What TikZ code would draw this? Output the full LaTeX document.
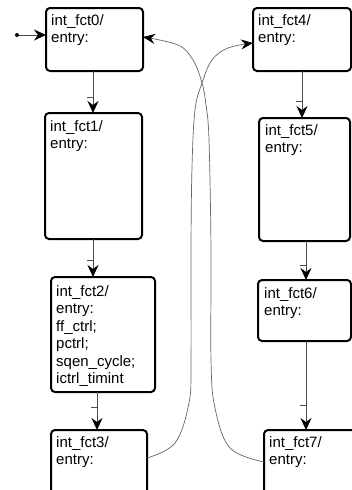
\documentclass[tikz,border=0pt]{standalone}
\usepackage{fontspec}
\setmainfont{Liberation Sans}
\usetikzlibrary{arrows.meta,decorations.markings,calc}
\newcommand\boxfont{\fontsize{15}{17.5}\selectfont}
\tikzset{
  statebox/.style={draw=black, line width=2pt, rounded corners=4pt, anchor=north west, inner sep=0pt, outer sep=0pt},
  boxtext/.style={anchor=north west, align=left, inner sep=0pt, font=\boxfont},
  flow/.style={draw=black!70, line width=0.8pt, -{Stealth[length=12pt,width=11pt,inset=4pt,black]}},
  tickat/.style={postaction={decorate, decoration={markings, mark=at position -#1 with {\draw[-, black!70, line width=0.8pt] (0,0.5pt) -- (0,-6pt);}}}},
  link/.style={draw=black!60, line width=0.7pt, -{Stealth[length=12pt,width=10pt,inset=4pt,black]}},
  initdot/.style={circle, fill=black, inner sep=0pt, minimum size=4pt},
}
\begin{document}
\begin{tikzpicture}[x=1pt,y=-1pt]
\clip (0,0) rectangle (352,490);
\fill[white] (0,0) rectangle (352,490);
% state boxes
\node[statebox, minimum width=97pt, minimum height=63pt] (f0) at (46,8) {};
\node[statebox, minimum width=97pt, minimum height=126pt] (f1) at (45,113) {};
\node[statebox, minimum width=104pt, minimum height=115pt] (f2) at (51,277) {};
\node[statebox, minimum width=96pt, minimum height=90pt] (f3) at (51,430) {};
\node[statebox, minimum width=98pt, minimum height=63pt] (f4) at (253,8) {};
\node[statebox, minimum width=91pt, minimum height=123pt] (f5) at (259,118) {};
\node[statebox, minimum width=93pt, minimum height=61pt] (f6) at (258,280) {};
\node[statebox, minimum width=100pt, minimum height=90pt] (f7) at (264,430) {};
% texts
\node[boxtext] (t0) at ($(f0.north west)+(5,6)$) {int\_fct0/\\entry:};
\node[boxtext] (t1) at ($(f1.north west)+(5,7)$) {int\_fct1/\\entry:};
\node[boxtext] (t2) at ($(f2.north west)+(5,8)$) {int\_fct2/\\entry:\\ff\_ctrl;\\pctrl;\\sqen\_cycle;\\ictrl\_timint};
\node[boxtext] (t3) at ($(f3.north west)+(5,6)$) {int\_fct3/\\entry:};
\node[boxtext] (t4) at ($(f4.north west)+(5,6)$) {int\_fct4/\\entry:};
\node[boxtext] (t5) at ($(f5.north west)+(6,6)$) {int\_fct5/\\entry:};
\node[boxtext] (t6) at ($(f6.north west)+(6,7)$) {int\_fct6/\\entry:};
\node[boxtext] (t7) at ($(f7.north west)+(5,6)$) {int\_fct7/\\entry:};
% initial transition
\node[initdot] (init) at (17,35) {};
\draw[flow] (init) -- (init -| f0.west);
% vertical transitions
\draw[flow, tickat=16pt] ([xshift=-1.5pt]f0.south) -- ([xshift=-1.5pt]f0.south |- f1.north);
\draw[flow, tickat=17pt] ([xshift=-0.5pt]f1.south) -- ([xshift=-0.5pt]f1.south |- f2.north);
\draw[flow, tickat=23pt] ([xshift=-6pt]f2.south) -- ([xshift=-6pt]f2.south |- f3.north);
\draw[flow, tickat=17pt] (f4.south) -- (f4.south |- f5.north);
\draw[flow, tickat=15pt] ([xshift=1.5pt]f5.south) -- ([xshift=1.5pt]f5.south |- f6.north);
\draw[flow, tickat=25pt] ([xshift=1.5pt]f6.south) -- ([xshift=1.5pt]f6.south |- f7.north);
% crossing transitions
\coordinate (c3) at ([yshift=-28pt]f3.north east);
\coordinate (c4) at ([yshift=-3.5pt]f4.west);
\coordinate (c7) at ([yshift=-32pt]f7.north west);
\coordinate (c0) at ([yshift=2.5pt]f0.east);
\draw[link] plot[smooth, tension=0.6] coordinates {(c3) (175,443) (189,403) (191,360) (191,250) (192,167) (195,110) (202,83) (212,60) (228,48) (c4)};
\draw[link] plot[smooth, tension=0.6] coordinates {(c7) (230,448) (215,408) (211,360) (211,250) (209,140) (206,105) (202,83) (193,60) (178,45) (c0)};
\end{tikzpicture}
\end{document}
